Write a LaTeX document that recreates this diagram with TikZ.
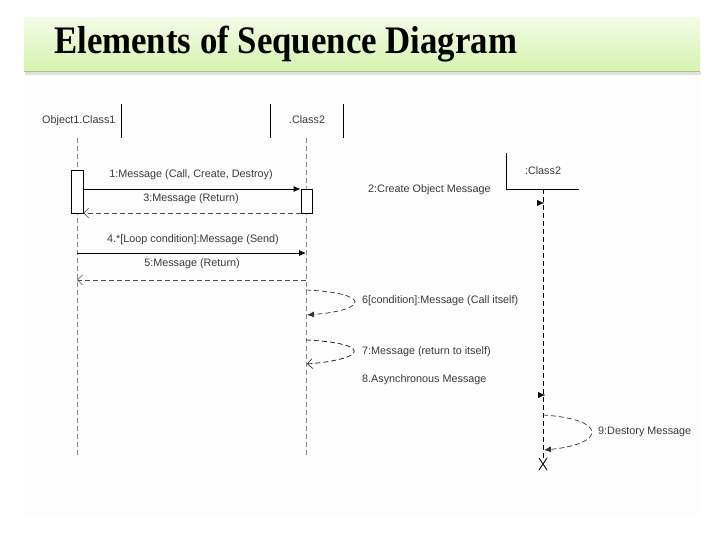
\documentclass[tikz,border=0pt]{standalone}
\usepackage{fontspec}
\setmainfont{Liberation Serif}
\setsansfont{Liberation Sans}
\usetikzlibrary{arrows.meta,calc}
\definecolor{bartop}{HTML}{F2FBE6}
\definecolor{barbot}{HTML}{D6F3AE}
\definecolor{barline}{HTML}{A6C885}
\definecolor{txt}{HTML}{3A3A3A}
\definecolor{lifegray}{HTML}{8A8A8A}
\tikzset{
  lbl/.style={font=\sffamily\fontsize{10.8}{12}\selectfont, text=txt, inner sep=0pt},
  head/.style={font=\sffamily\fontsize{10.8}{12}\selectfont, text=txt, inner sep=0pt},
  lifeline/.style={draw=lifegray, dash pattern=on 5pt off 3pt, line width=0.8pt},
  lifeblack/.style={draw=black, dash pattern=on 5pt off 3pt, line width=0.8pt},
  actbox/.style={draw=black, fill=white, line width=0.8pt},
  callmsg/.style={draw=black, line width=0.9pt, -{Latex[length=7pt,width=6pt]}},
  retmsg/.style={draw=black!70, dash pattern=on 5pt off 3pt, line width=0.8pt, -{Straight Barb[length=5pt,width=10pt,line width=0.6pt]}},
  selfcall/.style={draw=black!80, dash pattern=on 5pt off 3pt, line width=0.7pt, -{Latex[length=7pt,width=6pt]}},
  selfret/.style={draw=black!85, dash pattern=on 5pt off 3pt, line width=0.8pt, -{Straight Barb[length=5pt,width=10pt,line width=0.6pt]}},
  headline/.style={draw=black, line width=0.9pt}
}
\begin{document}
\begin{tikzpicture}[x=1pt,y=-1pt]
\useasboundingbox (0,0) rectangle (720,540);
\fill[white] (0,0) rectangle (720,540);
% diagram area
\fill[black!0.8] (24,78) rectangle (700,515);
% title bar
\fill[black!12] (25,72) rectangle (701,75);
\shade[top color=bartop, bottom color=barbot] (24,18) rectangle (700,72);
\draw[barline, line width=1.2pt] (24,71.5) -- (700,71.5);
\node[anchor=west, inner sep=0pt] (title) at (54,44)
  {\scalebox{1}[1.12]{\fontsize{34.8}{40}\selectfont\bfseries Elements of Sequence Diagram}};

% lifeline heads
\node[head, anchor=west] (h1) at (42,121) {Object1.Class1};
\node[head] (h2) at (307,120) {.Class2};
\node[head] (h3) at (543,171) {:Class2};
\draw[headline] (121,104) -- (121,138);
\draw[headline] (270,104) -- (270,138);
\draw[headline] (343,104) -- (343,138);
\draw[headline] (506,153) -- (506,189) -- (579,189);

% lifeline coordinates
\coordinate (l1t) at (77,138);  \coordinate (l1b) at (77,456);
\coordinate (l2t) at (306,138); \coordinate (l2b) at (306,456);
\coordinate (l3t) at (543,189); \coordinate (l3b) at (543,458);
\draw[lifeline] (l1t) -- (l1b);
\draw[lifeline] (l2t) -- (l2b);
\draw[lifeblack] (l3t) -- (l3b);

% activation boxes
\node[actbox, minimum width=12pt, minimum height=43pt, inner sep=0pt] (a1) at (77,191.5) {};
\node[actbox, minimum width=11pt, minimum height=24pt, inner sep=0pt] (a2) at (306.5,201) {};

% messages 1 and 3
\coordinate (m1s) at (a1.east |- 0,189);
\coordinate (m1e) at (a2.west |- 0,189);
\draw[callmsg] (m1s) -- (m1e);
\node[lbl] (t1) at (191,175) {1:Message (Call, Create, Destroy)};
\coordinate (m3s) at (a2.west |- 0,213);
\coordinate (m3e) at (a1.east |- 0,213);
\draw[retmsg] (m3s) -- (m3e);
\node[lbl] (t3) at (191,199) {3:Message (Return)};

% messages 4 and 5
\coordinate (m4s) at (77,253); \coordinate (m4e) at (306,253);
\draw[callmsg] (m4s) -- (m4e);
\node[lbl] (t4) at (193,240) {4.*[Loop condition]:Message (Send)};
\coordinate (m5s) at (306,280); \coordinate (m5e) at (77,280);
\draw[retmsg] (m5s) -- (m5e);
\node[lbl] (t5) at (192,264) {5:Message (Return)};

% message 2 (create) - only arrowhead visible
\coordinate (m2e) at (544,203);
\draw[draw=white, line width=0.1pt, -{Latex[length=7pt,width=6pt,black]}] ($(m2e)+(-4,0)$) -- (m2e);
\node[lbl, anchor=west] (t2) at (368,190) {2:Create Object Message};

% self message 6
\coordinate (s6a) at (306,290); \coordinate (s6b) at (307,315);
\draw[selfcall] (s6a) .. controls +(65,3) and +(62,-5) .. (s6b);
\node[lbl, anchor=west] (t6) at (362,301) {6[condition]:Message (Call itself)};

% self message 7
\coordinate (s7a) at (306,340); \coordinate (s7b) at (307,364);
\draw[selfret] (s7a) .. controls +(65,3) and +(62,-5) .. (s7b);
\node[lbl, anchor=west] (t7) at (362,352) {7:Message (return to itself)};

% message 8 (asynchronous) - only arrowhead visible
\coordinate (m8e) at (545,395);
\draw[draw=white, line width=0.1pt, -{Latex[length=7pt,width=6pt,black]}] ($(m8e)+(-4,0)$) -- (m8e);
\node[lbl, anchor=west] (t8) at (362,380) {8.Asynchronous Message};

% self message 9
\coordinate (s9a) at (543,415); \coordinate (s9b) at (544,450);
\draw[selfcall] (s9a) .. controls +(65,4) and +(62,-6) .. (s9b);
\node[lbl, anchor=west] (t9) at (598,432) {9:Destory Message};

% destroy X
\coordinate (xc) at (543,464);
\draw[black, line width=0.9pt] ($(xc)+(-4,-6)$) -- ($(xc)+(4,6)$) ($(xc)+(4,-6)$) -- ($(xc)+(-4,6)$);
\end{tikzpicture}
\end{document}
